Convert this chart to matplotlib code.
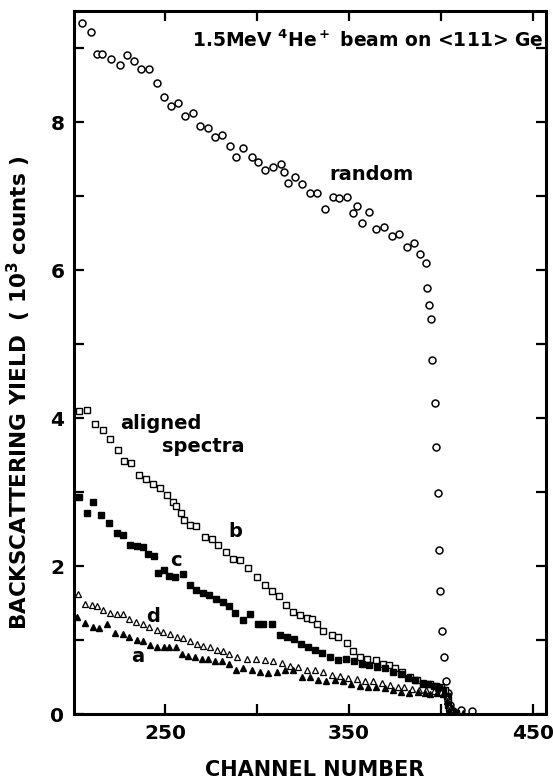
import matplotlib
matplotlib.use("Agg")
import matplotlib.pyplot as plt

plt.rcParams['font.family'] = ['DejaVu Sans']
plt.rcParams['font.weight'] = 'bold'
plt.rcParams['mathtext.default'] = 'bf'

# random spectrum (open circles)
random_x = [205.0, 209.6, 212.8, 215.9, 220.4, 225.5, 229.5, 233.3, 236.8, 241.3,
            245.4, 249.6, 253.2, 257.2, 260.8, 265.0, 269.0, 273.2, 277.1, 280.8,
            285.3, 288.6, 292.5, 297.1, 300.7, 304.3, 308.8, 312.8, 314.8, 316.6,
            320.6, 324.2, 328.8, 332.4, 336.9, 341.1, 344.7, 348.7, 352.3, 354.5,
            356.9, 361.0, 364.6, 369.2, 373.2, 377.3, 381.3, 385.3, 388.5, 391.6,
            392.2, 393.4, 394.5, 395.2, 396.7, 397.2, 398.3, 399.0, 399.5, 400.5,
            401.8, 402.8, 403.8, 405.0, 406.5, 411.0, 417.0]
random_y = [9.34, 9.21, 8.92, 8.92, 8.85, 8.77, 8.91, 8.83, 8.71, 8.72,
            8.53, 8.34, 8.21, 8.26, 8.08, 8.12, 7.95, 7.92, 7.80, 7.82,
            7.67, 7.53, 7.65, 7.53, 7.46, 7.35, 7.39, 7.43, 7.32, 7.17,
            7.26, 7.16, 7.04, 7.04, 6.82, 6.98, 6.97, 6.98, 6.77, 6.86,
            6.64, 6.79, 6.55, 6.58, 6.46, 6.49, 6.31, 6.36, 6.22, 6.09,
            5.76, 5.53, 5.34, 4.79, 4.20, 3.61, 2.99, 2.22, 1.66, 1.12,
            0.77, 0.44, 0.28, 0.12, 0.04, 0.05, 0.04]

# aligned spectrum b (open squares)
b_x = [203.4, 207.4, 211.9, 216.1, 220.1, 224.6, 227.7, 231.3, 236.0, 239.6,
       243.3, 247.2, 250.9, 254.5, 255.9, 258.5, 260.3, 263.5, 266.8, 271.7,
       275.3, 278.9, 283.1, 287.1, 290.7, 295.2, 299.8, 304.3, 307.9, 311.9,
       315.7, 319.7, 323.3, 327.0, 329.7, 332.4, 336.0, 340.5, 344.1, 348.7,
       352.0, 356.0, 359.6, 364.5, 368.6, 371.5, 375.0, 379.0, 383.0, 387.0,
       390.0, 394.0, 397.0, 400.0, 402.0, 403.5, 404.5, 406.0]
b_y = [4.09, 4.11, 3.92, 3.84, 3.71, 3.57, 3.42, 3.39, 3.23, 3.18,
       3.11, 3.05, 2.96, 2.87, 2.81, 2.71, 2.62, 2.55, 2.54, 2.39,
       2.37, 2.28, 2.19, 2.10, 2.08, 1.97, 1.85, 1.74, 1.66, 1.59,
       1.47, 1.38, 1.34, 1.30, 1.28, 1.22, 1.12, 1.07, 1.04, 0.96,
       0.85, 0.77, 0.74, 0.73, 0.68, 0.66, 0.62, 0.57, 0.50, 0.46,
       0.42, 0.41, 0.38, 0.36, 0.33, 0.20, 0.08, 0.03]

# aligned spectrum c (filled squares)
c_x = [203.4, 207.4, 211.0, 215.0, 219.7, 224.0, 227.0, 231.0, 235.0, 238.2,
       240.9, 244.1, 246.3, 249.6, 252.3, 255.4, 259.9, 263.5, 266.8, 270.4,
       274.0, 277.7, 281.3, 284.9, 288.0, 292.2, 296.2, 300.7, 303.4, 307.9,
       312.5, 316.1, 320.1, 323.7, 327.8, 331.5, 335.1, 339.6, 344.2, 348.3,
       352.7, 356.9, 361.0, 365.0, 369.5, 374.0, 378.0, 382.2, 385.8, 390.3,
       393.0, 396.0, 399.0, 401.0, 403.0, 404.0, 405.0, 408.0]
c_y = [2.93, 2.72, 2.87, 2.69, 2.58, 2.45, 2.42, 2.28, 2.27, 2.26,
       2.16, 2.13, 1.90, 1.94, 1.86, 1.85, 1.89, 1.74, 1.68, 1.64,
       1.61, 1.56, 1.52, 1.46, 1.37, 1.27, 1.35, 1.21, 1.21, 1.21,
       1.07, 1.04, 1.01, 0.95, 0.91, 0.86, 0.83, 0.77, 0.73, 0.74,
       0.71, 0.68, 0.66, 0.64, 0.62, 0.57, 0.54, 0.48, 0.46, 0.41,
       0.40, 0.38, 0.35, 0.33, 0.25, 0.12, 0.05, 0.02]

# aligned spectrum d (open triangles)
d_x = [202.8, 206.5, 210.1, 212.8, 216.4, 220.1, 223.7, 227.3, 230.6, 234.2,
       237.8, 241.4, 245.4, 249.0, 252.7, 256.3, 259.9, 263.5, 267.2, 270.8,
       274.4, 278.1, 281.6, 284.9, 288.9, 294.3, 299.4, 304.3, 308.8, 313.3,
       317.8, 322.3, 326.9, 331.4, 335.9, 340.5, 345.0, 349.5, 354.1, 358.6,
       363.2, 367.7, 372.3, 376.8, 380.0, 384.0, 388.0, 392.0, 396.0, 400.0,
       403.0, 404.5, 406.0]
d_y = [1.62, 1.49, 1.47, 1.46, 1.40, 1.37, 1.35, 1.35, 1.29, 1.25,
       1.22, 1.17, 1.13, 1.11, 1.08, 1.04, 1.03, 0.98, 0.95, 0.92,
       0.90, 0.87, 0.85, 0.81, 0.77, 0.74, 0.75, 0.73, 0.71, 0.69,
       0.65, 0.63, 0.59, 0.59, 0.57, 0.53, 0.51, 0.48, 0.47, 0.45,
       0.44, 0.42, 0.39, 0.37, 0.36, 0.34, 0.33, 0.32, 0.31, 0.30,
       0.22, 0.10, 0.03]

# aligned spectrum a (filled triangles)
a_x = [202.0, 206.5, 211.0, 214.3, 218.2, 222.8, 227.0, 230.6, 234.6, 237.8,
       241.8, 245.8, 249.4, 252.3, 255.9, 259.0, 262.6, 266.3, 269.9, 273.5,
       277.1, 280.8, 284.9, 288.5, 292.5, 297.1, 301.6, 306.1, 310.6, 315.1,
       319.7, 324.2, 328.7, 333.2, 337.7, 342.2, 346.7, 351.3, 355.8, 360.3,
       364.8, 369.3, 373.8, 378.3, 382.8, 387.3, 391.0, 394.0, 398.0, 401.0,
       403.0, 404.5, 407.0, 412.0]
a_y = [1.31, 1.23, 1.17, 1.16, 1.22, 1.10, 1.08, 1.04, 1.00, 0.99,
       0.93, 0.91, 0.90, 0.90, 0.91, 0.81, 0.78, 0.77, 0.75, 0.74,
       0.72, 0.71, 0.68, 0.60, 0.62, 0.60, 0.57, 0.56, 0.57, 0.59,
       0.60, 0.50, 0.50, 0.46, 0.44, 0.46, 0.44, 0.41, 0.38, 0.36,
       0.37, 0.35, 0.32, 0.30, 0.28, 0.30, 0.28, 0.27, 0.28, 0.27,
       0.18, 0.06, 0.02, 0.02]

fig = plt.figure(figsize=(5.53, 7.82), dpi=100)
ax = fig.add_axes([74/553, 68/782, 472/553, 703/782])

ax.plot(random_x, random_y, 'o', ms=5.0, mfc='white', mec='black', mew=1.1, ls='none')
ax.plot(b_x, b_y, 's', ms=4.2, mfc='white', mec='black', mew=1.0, ls='none')
ax.plot(c_x, c_y, 's', ms=4.4, mfc='black', mec='black', ls='none')
ax.plot(d_x, d_y, '^', ms=4.2, mfc='white', mec='black', mew=0.9, ls='none')
ax.plot(a_x, a_y, '^', ms=4.4, mfc='black', mec='black', ls='none')

ax.set_xlim(200.5, 457)
ax.set_ylim(0, 9.5)
ax.set_xticks([250, 350, 450])
ax.set_xticks([300, 400], minor=True)
ax.set_yticks([0, 2, 4, 6, 8])
ax.set_yticks([1, 3, 5, 7, 9], minor=True)
ax.tick_params(which='both', direction='in', top=True, right=True, width=1.6,
               labelsize=14.5)
ax.tick_params(which='major', length=7, pad=7)
ax.tick_params(which='minor', length=7)
for s in ax.spines.values():
    s.set_linewidth(2.2)

ax.set_xlabel('CHANNEL NUMBER', fontsize=15, fontweight='bold')
ax.xaxis.set_label_coords(0.51, -0.066)
ax.set_ylabel('BACKSCATTERING YIELD  ( 10$^3$ counts )', fontsize=15.5, fontweight='bold')
ax.yaxis.set_label_coords(-0.086, 0.457)

ax.text(0.995, 0.959, r'1.5MeV $^4$He$^+$ beam on <111> Ge', transform=ax.transAxes,
        ha='right', va='center', fontsize=13.5, fontweight='bold')
ax.text(362, 7.29, 'random', ha='center', va='center', fontsize=14, fontweight='bold')
ax.text(247.8, 3.93, 'aligned', ha='center', va='center', fontsize=14, fontweight='bold')
ax.text(270.6, 3.61, 'spectra', ha='center', va='center', fontsize=14, fontweight='bold')
ax.text(288, 2.47, 'b', ha='center', va='center', fontsize=14, fontweight='bold')
ax.text(256, 2.07, 'c', ha='center', va='center', fontsize=14, fontweight='bold')
ax.text(243.4, 1.32, 'd', ha='center', va='center', fontsize=14, fontweight='bold')
ax.text(235.3, 0.78, 'a', ha='center', va='center', fontsize=14, fontweight='bold')

fig.savefig('out.png', dpi=100)
